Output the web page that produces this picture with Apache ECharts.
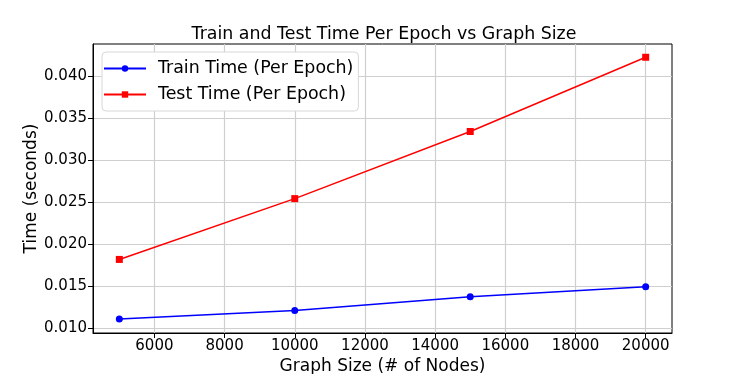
<!DOCTYPE html>
<html>
<head>
<meta charset="utf-8">
<script src="https://cdn.jsdelivr.net/npm/echarts@6/dist/echarts.min.js"></script>
<style>
  html, body { margin: 0; padding: 0; background: #fff; }
  #chart { width: 747px; height: 374px; }
</style>
</head>
<body>
<div id="chart"></div>
<script>
// data
const graphSizes = [5000, 10000, 15000, 20000]
const trainTime = [0.01105, 0.01205, 0.01370, 0.01490]
const testTime = [0.01815, 0.02540, 0.03340, 0.04225]
const xTicks = [6000, 8000, 10000, 12000, 14000, 16000, 18000, 20000]
const yTicks = [0.010, 0.015, 0.020, 0.025, 0.030, 0.035, 0.040]

const font = 'DejaVu Sans'
const pairs = (xs, ys) => xs.map((x, i) => [x, ys[i]])

let myChart = echarts.init(document.getElementById('chart'))
myChart.setOption({
  backgroundColor: '#fff',
  animation: false,
  title: {
    text: 'Train and Test Time Per Epoch vs Graph Size',
    left: 379,
    textAlign: 'center',
    top: 21,
    textStyle: { fontFamily: font, fontSize: 17.4, fontWeight: 'normal', color: '#000' }
  },
  grid: {
    left: 93,
    right: 75,
    top: 44,
    bottom: 41,
    outerBoundsMode: 'none',
    containLabel: false,
    show: true,
    borderColor: '#000',
    borderWidth: 1,
    backgroundColor: '#fff'
  },
  legend: {
    orient: 'vertical',
    left: 102,
    top: 52,
    padding: [8, 5, 8, 1],
    itemWidth: 42,
    itemHeight: 8,
    itemGap: 9,
    backgroundColor: '#fff',
    borderColor: '#d8d8d8',
    borderWidth: 1,
    borderRadius: 4,
    textStyle: { fontFamily: font, fontSize: 17.4, color: '#000', padding: [0, 0, 0, 7] },
    data: ['Train Time (Per Epoch)', 'Test Time (Per Epoch)']
  },
  xAxis: {
    type: 'value',
    min: 4250,
    max: 20750,
    name: 'Graph Size (# of Nodes)',
    nameLocation: 'middle',
    nameGap: 25,
    nameMoveOverlap: false,
    nameTextStyle: { fontFamily: font, fontSize: 17, color: '#000' },
    axisLine: { show: true, lineStyle: { color: '#000' } },
    axisTick: { show: true, length: 5, inside: false, customValues: xTicks, lineStyle: { color: '#000' } },
    axisLabel: {
      fontFamily: font, fontSize: 15, color: '#000', margin: 6,
      customValues: xTicks,
      formatter: v => String(v)
    },
    splitLine: { show: true, lineStyle: { color: '#cfcfcf', width: 1.2 } }
  },
  yAxis: {
    type: 'value',
    min: 0.00938,
    max: 0.04383,
    name: 'Time (seconds)',
    nameLocation: 'middle',
    nameGap: 53,
    nameMoveOverlap: false,
    nameTextStyle: { fontFamily: font, fontSize: 17, color: '#000' },
    axisLine: { show: true, lineStyle: { color: '#000' } },
    axisTick: { show: true, length: 5, customValues: yTicks, lineStyle: { color: '#000' } },
    axisLabel: {
      fontFamily: font, fontSize: 15, color: '#000', margin: 6,
      customValues: yTicks,
      formatter: v => v.toFixed(3)
    },
    splitLine: { show: true, lineStyle: { color: '#cfcfcf', width: 1.2 } }
  },
  series: [{
    name: 'Train Time (Per Epoch)',
    type: 'line',
    symbol: 'circle',
    symbolSize: 7,
    color: '#0000ff',
    lineStyle: { width: 1.5 },
    data: pairs(graphSizes, trainTime)
  }, {
    name: 'Test Time (Per Epoch)',
    type: 'line',
    symbol: 'rect',
    symbolSize: 7,
    color: '#ff0000',
    lineStyle: { width: 1.5 },
    data: pairs(graphSizes, testTime)
  }]
})
</script>
</body>
</html>
